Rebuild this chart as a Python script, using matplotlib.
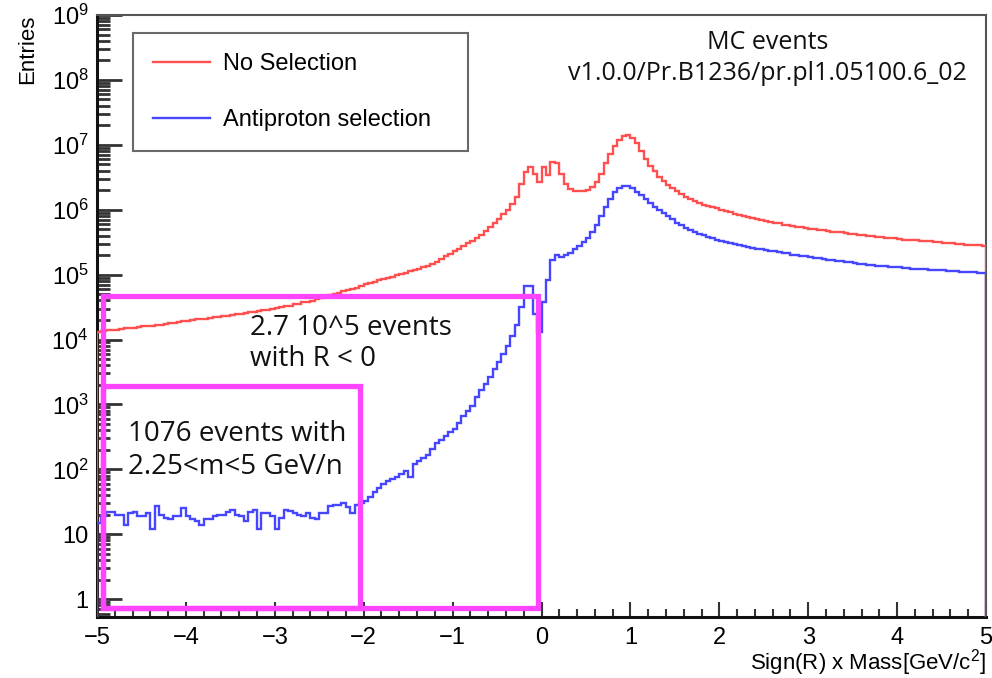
import numpy as np
import matplotlib
matplotlib.use("Agg")
import matplotlib.pyplot as plt
from matplotlib.patches import Rectangle
from matplotlib.ticker import FixedLocator, FixedFormatter, MultipleLocator

plt.rcParams["font.family"] = ["Liberation Sans", "DejaVu Sans"]
plt.rcParams["mathtext.fontset"] = "custom"
plt.rcParams["mathtext.rm"] = "Liberation Sans"
plt.rcParams["mathtext.it"] = "Liberation Sans:italic"

# ──────────────────────────────────────────────
# Data: 200 bins of width 0.05 over Sign(R) x Mass in [-5, 5]
# ──────────────────────────────────────────────
X_RANGE = (-5.0, 5.0)

no_selection = [
    13200, 13500, 13800, 13800, 14100, 14500, 14800, 14800, 15100, 15500,
    15900, 16200, 16200, 16600, 17000, 17400, 17800, 18200, 18600, 19100,
    19500, 20000, 20400, 20400, 20900, 21400, 21900, 22400, 22900, 23400,
    24000, 24500, 25100, 25700, 26300, 26900, 27500, 28200, 28800, 29500,
    30200, 31600, 32400, 33100, 34700, 35500, 37200, 38000, 39800, 41700,
    43700, 45700, 47900, 50100, 52500, 55000, 57500, 60300, 63100, 67600,
    70800, 74100, 77600, 81300, 85100, 89100, 93300, 97700, 102000, 107000,
    112000, 117000, 123000, 132000, 138000, 148000, 158000, 174000, 191000, 209000,
    229000, 251000, 275000, 302000, 331000, 363000, 407000, 468000, 537000, 617000,
    724000, 851000, 1000000, 1230000, 1580000, 2510000, 3800000, 4470000, 3550000, 2630000,
    4470000, 3470000, 5500000, 5250000, 3550000, 2510000, 2090000, 1950000, 1910000, 1910000,
    2040000, 2240000, 2690000, 3550000, 5250000, 7240000, 9550000, 12000000, 13800000, 14100000,
    12600000, 10500000, 7940000, 6030000, 4790000, 3890000, 3240000, 2750000, 2400000, 2140000,
    1910000, 1740000, 1580000, 1480000, 1380000, 1290000, 1200000, 1150000, 1100000, 1050000,
    1000000, 955000, 912000, 871000, 832000, 813000, 776000, 741000, 724000, 692000,
    676000, 646000, 631000, 617000, 589000, 575000, 562000, 550000, 537000, 525000,
    513000, 501000, 490000, 479000, 468000, 457000, 457000, 447000, 437000, 427000,
    417000, 407000, 407000, 398000, 389000, 380000, 380000, 372000, 363000, 363000,
    355000, 347000, 347000, 339000, 339000, 331000, 324000, 324000, 316000, 316000,
    309000, 302000, 302000, 295000, 295000, 288000, 288000, 282000, 282000, 275000,
]

antiproton = [
    15, 19, 22, 22, 20, 20, 14, 21, 22, 19,
    19, 21, 12, 27, 20, 18, 17, 19, 19, 25,
    19, 17, 16, 14, 17, 17, 19, 20, 20, 22,
    24, 20, 19, 16, 22, 24, 12, 21, 21, 19,
    12, 18, 24, 23, 21, 20, 19, 21, 18, 17,
    21, 21, 27, 28, 28, 30, 26, 21, 28, 30,
    32, 38, 45, 52, 60, 66, 71, 76, 85, 93,
    76, 120, 132, 151, 166, 209, 251, 282, 331, 372,
    417, 525, 661, 794, 955, 1320, 1660, 2090, 2630, 3550,
    4570, 6030, 7940, 11200, 16600, 31600, 67600, 67600, 25100, 13200,
    38000, 83200, 170000, 200000, 190000, 204000, 219000, 245000, 275000, 316000,
    372000, 457000, 575000, 794000, 1100000, 1480000, 1860000, 2140000, 2290000, 2290000,
    2140000, 1900000, 1660000, 1450000, 1260000, 1120000, 1000000, 891000, 794000, 708000,
    631000, 575000, 525000, 490000, 457000, 427000, 407000, 380000, 363000, 347000,
    331000, 316000, 309000, 295000, 288000, 275000, 269000, 257000, 251000, 245000,
    240000, 234000, 229000, 224000, 219000, 214000, 204000, 200000, 195000, 191000,
    186000, 182000, 178000, 174000, 170000, 166000, 164000, 160000, 157000, 155000,
    151000, 148000, 146000, 143000, 141000, 138000, 136000, 135000, 132000, 130000,
    129000, 127000, 126000, 124000, 123000, 122000, 120000, 119000, 117000, 117000,
    116000, 115000, 114000, 112000, 111000, 110000, 110000, 108000, 107000, 107000,
]

series_labels = ["No Selection", "Antiproton selection"]

y_ticks = [1, 10, 1e2, 1e3, 1e4, 1e5, 1e6, 1e7, 1e8, 1e9]
y_tick_labels = ["1", "10", r"$10^{2}$", r"$10^{3}$", r"$10^{4}$", r"$10^{5}$",
                 r"$10^{6}$", r"$10^{7}$", r"$10^{8}$", r"$10^{9}$"]
x_ticks = [-5, -4, -3, -2, -1, 0, 1, 2, 3, 4, 5]
x_tick_labels = ["\u22125", "\u22124", "\u22123", "\u22122", "\u22121",
                 "0", "1", "2", "3", "4", "5"]

# highlighted regions: (x_left, x_right, y_bottom, y_top)
box_negative = (-4.93, -0.04, 0.73, 4.6e4)
box_highmass = (-4.93, -2.04, 0.73, 1.9e3)

RED = "#ff5050"
BLUE = "#4646ff"
MAGENTA = "#ff44ff"

# ──────────────────────────────────────────────
# Plot
# ──────────────────────────────────────────────
fig = plt.figure(figsize=(9.92, 6.78), dpi=100)
ax = fig.add_axes([97 / 992, 61 / 678, 889 / 992, 602 / 678])

edges = np.linspace(X_RANGE[0], X_RANGE[1], len(no_selection) + 1)
ax.stairs(no_selection, edges, color=RED, linewidth=1.7,
          baseline=0, label=series_labels[0], zorder=3)
ax.stairs(antiproton, edges, color=BLUE, linewidth=1.7,
          baseline=0, label=series_labels[1], zorder=3)

ax.set_yscale("log")
ax.set_xlim(*X_RANGE)
ax.set_ylim(0.53, 1e9)

ax.yaxis.set_major_locator(FixedLocator(y_ticks))
ax.yaxis.set_major_formatter(FixedFormatter(y_tick_labels))
minor_y = [m * 10.0 ** d for d in range(-1, 9) for m in range(2, 10)]
ax.yaxis.set_minor_locator(FixedLocator(minor_y))
ax.yaxis.set_minor_formatter(FixedFormatter([""] * len(minor_y)))
ax.xaxis.set_major_locator(FixedLocator(x_ticks))
ax.xaxis.set_major_formatter(FixedFormatter(x_tick_labels))
ax.xaxis.set_minor_locator(MultipleLocator(0.2))

ax.tick_params(axis="both", which="both", direction="in",
               top=False, right=False, colors="#333333", labelcolor="black",
               labelsize=17)
ax.tick_params(axis="y", which="major", length=18, width=2.0, pad=6)
ax.tick_params(axis="y", which="minor", length=9, width=2.0)
ax.tick_params(axis="x", which="major", length=11, width=1.5, pad=7)
ax.tick_params(axis="x", which="minor", length=6, width=1.5)

for side in ["left", "bottom"]:
    ax.spines[side].set_linewidth(2.2)
    ax.spines[side].set_color("#111111")
for side in ["top", "right"]:
    ax.spines[side].set_linewidth(1.5)
    ax.spines[side].set_color("#555555")

ax.set_xlabel("Sign(R) x Mass[GeV/c$^{2}$]", fontsize=16, ha="right", va="center")
ax.xaxis.set_label_coords(1.0, -0.075)
ax.set_ylabel("Entries", fontsize=16, ha="right", va="center")
ax.yaxis.set_label_coords(-0.078, 1.0)

leg = ax.legend(loc="upper left", bbox_to_anchor=(0.0405, 0.784, 0.377, 0.186),
                mode="expand", fontsize=17, frameon=True, fancybox=False,
                handlelength=2.4, handletextpad=0.55, labelspacing=1.45,
                borderpad=0.85, borderaxespad=0)
leg.get_frame().set_edgecolor("#444444")
leg.get_frame().set_linewidth(1.5)

# highlighted regions
for x0, x1, y0, y1 in [box_negative, box_highmass]:
    ax.add_patch(Rectangle((x0, y0), x1 - x0, y1 - y0, fill=False,
                           edgecolor=MAGENTA, linewidth=3.8, zorder=5,
                           clip_on=False))

note_font = ["Open Sans", "DejaVu Sans"]
ax.text(0.754, 0.955, "MC events", transform=ax.transAxes, ha="center",
        va="center", fontsize=18, family=note_font, color="#111111")
ax.text(0.754, 0.903, "v1.0.0/Pr.B1236/pr.pl1.05100.6_02", transform=ax.transAxes,
        ha="center", va="center", fontsize=18, family=note_font, color="#111111")

ax.text((250 - 97) / 889, (617 - 328) / 602, "2.7 10^5 events", transform=ax.transAxes,
        ha="left", va="center", fontsize=20, family=note_font, color="#111111", zorder=6)
ax.text((250 - 97) / 889, (617 - 359) / 602, "with R < 0", transform=ax.transAxes,
        ha="left", va="center", fontsize=20, family=note_font, color="#111111", zorder=6)
ax.text((128 - 97) / 889, (617 - 434) / 602, "1076 events with", transform=ax.transAxes,
        ha="left", va="center", fontsize=20, family=note_font, color="#111111", zorder=6)
ax.text((128 - 97) / 889, (617 - 467) / 602, "2.25<m<5 GeV/n", transform=ax.transAxes,
        ha="left", va="center", fontsize=20, family=note_font, color="#111111", zorder=6)

fig.savefig("out.png", dpi=100)
